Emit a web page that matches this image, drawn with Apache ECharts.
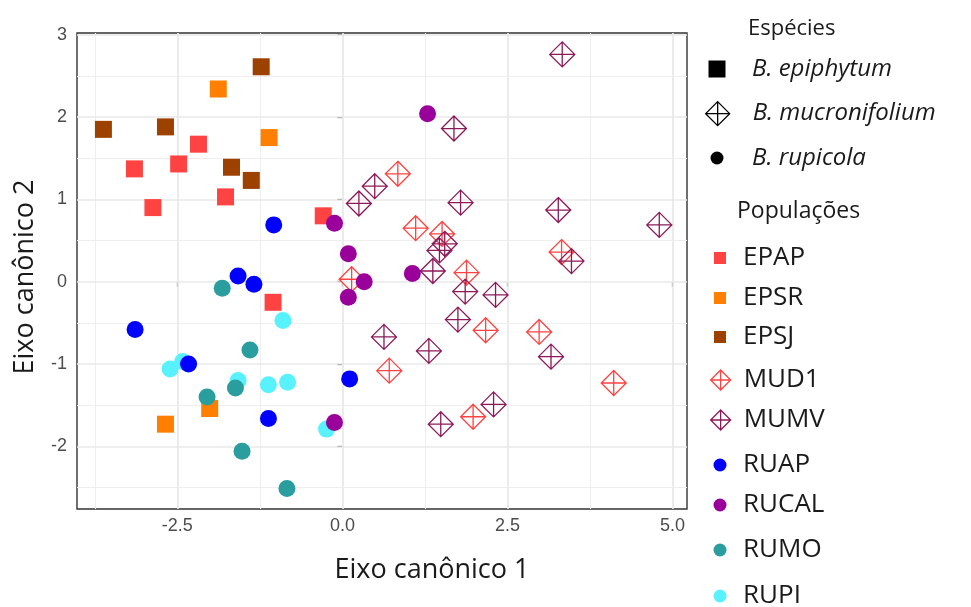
<!DOCTYPE html>
<html>
<head>
<meta charset="utf-8">
<script src="https://cdn.jsdelivr.net/npm/echarts@6/dist/echarts.min.js"></script>
<style>
  html, body { margin: 0; padding: 0; background: #ffffff; }
  #chart { width: 971px; height: 607px; }
</style>
</head>
<body>
<div id="chart"></div>
<script>
// Axis breaks
const xTicks = [-2.5, 0, 2.5, 5];
const xMinor = [-3.75, -1.25, 1.25, 3.75];
const yTicks = [-2, -1, 0, 1, 2, 3];
const yMinor = [-2.5, -1.5, -0.5, 0.5, 1.5, 2.5];

// Legend entries
const species = ['B. epiphytum', 'B. mucronifolium', 'B. rupicola'];
const populations = ['EPAP', 'EPSR', 'EPSJ', 'MUD1', 'MUMV', 'RUAP', 'RUCAL', 'RUMO', 'RUPI'];

// Canonical scores [axis 1, axis 2] per population
const EPAP = [[-3.15, 1.37], [-2.87, 0.90], [-2.48, 1.43], [-2.18, 1.67], [-1.77, 1.03], [-0.29, 0.80], [-1.05, -0.25]];
const EPSR = [[-1.88, 2.34], [-1.11, 1.75], [-2.68, -1.73], [-2.01, -1.54]];
const EPSJ = [[-3.62, 1.85], [-2.68, 1.88], [-1.23, 2.61], [-1.68, 1.39], [-1.38, 1.23]];
const MUD1 = [[0.84, 1.31], [1.11, 0.65], [1.51, 0.58], [3.32, 0.36], [1.88, 0.11], [0.14, 0.03],
              [2.17, -0.59], [2.98, -0.61], [0.71, -1.08], [4.11, -1.23], [1.98, -1.64]];
const MUMV = [[3.33, 2.76], [1.69, 1.86], [0.49, 1.16], [0.25, 0.95], [1.79, 0.96], [3.27, 0.87],
              [4.80, 0.69], [3.47, 0.25], [1.55, 0.46], [1.47, 0.38], [1.37, 0.13], [1.86, -0.12],
              [2.32, -0.16], [1.75, -0.46], [0.63, -0.67], [1.31, -0.84], [3.16, -0.91], [2.29, -1.49], [1.49, -1.73]];
const RUAP = [[-1.04, 0.69], [-1.58, 0.07], [-1.34, -0.03], [-3.14, -0.58], [-2.33, -1.00], [-1.12, -1.66], [0.11, -1.18]];
const RUCAL = [[1.29, 2.04], [-0.12, 0.71], [0.09, 0.34], [0.33, 0.00], [0.09, -0.19], [1.06, 0.10], [-0.12, -1.71]];
const RUMO = [[-1.82, -0.08], [-1.40, -0.83], [-1.62, -1.29], [-2.05, -1.40], [-1.52, -2.06], [-0.84, -2.51]];
const RUPI = [[-0.90, -0.47], [-2.61, -1.06], [-2.42, -0.97], [-1.58, -1.20], [-1.12, -1.25], [-0.83, -1.22], [-0.24, -1.79]];

const scores = { EPAP, EPSR, EPSJ, MUD1, MUMV, RUAP, RUCAL, RUMO, RUPI };

// Styling
const popColor = {
  EPAP: '#ff4242', EPSR: '#ff8000', EPSJ: '#9c4100',
  MUD1: '#ff4242', MUMV: '#8c1a5a',
  RUAP: '#0000ff', RUCAL: '#9a009a', RUMO: '#2a9d9e', RUPI: '#58f2ff'
};
const SQUARE = 'path://M0,0L10,0L10,10L0,10Z';
const DIAMOND_PLUS = 'path://M12,0L24,12L12,24L0,12Z M12,0L12,24 M0,12L24,12';
const speciesOf = p => p.startsWith('EP') ? 0 : (p.startsWith('MU') ? 1 : 2);
const shapeOf = s => [SQUARE, DIAMOND_PLUS, 'circle'][s];
const markSize = [17, 25, 17];

function markStyle(s, color) {
  if (s === 1) return { color: 'rgba(0,0,0,0)', borderColor: color, borderWidth: 1.3, opacity: 1 };
  return { color: color, borderWidth: 0, opacity: 1 };
}

const FONT = "'Open Sans', 'Noto Sans', sans-serif";
const TICK_FONT = "'Liberation Sans', Arial, sans-serif";

// grid lines (major and minor) as panel reference lines
const gridLines = [];
xTicks.forEach(v => gridLines.push({ xAxis: v, lineStyle: { color: '#e8e8e8', width: 1.7, type: 'solid' } }));
xMinor.forEach(v => gridLines.push({ xAxis: v, lineStyle: { color: '#eeeeee', width: 1.1, type: 'solid' } }));
yTicks.forEach(v => gridLines.push({ yAxis: v, lineStyle: { color: '#e8e8e8', width: 1.7, type: 'solid' } }));
yMinor.forEach(v => gridLines.push({ yAxis: v, lineStyle: { color: '#eeeeee', width: 1.1, type: 'solid' } }));

const series = [{
  name: '__grid', type: 'scatter', data: [], silent: true,
  markLine: { silent: true, z: 1, symbol: ['none', 'none'], label: { show: false },
              emphasis: { disabled: true }, animation: false, data: gridLines }
}];

// species key entries (black symbols)
species.forEach((name, s) => {
  series.push({
    name, type: 'scatter', data: [], symbol: shapeOf(s), symbolSize: markSize[s],
    itemStyle: markStyle(s, '#000000')
  });
});

// drawing order of the populations
const drawOrder = ['EPAP', 'EPSR', 'EPSJ', 'RUPI', 'MUD1', 'MUMV', 'RUAP', 'RUCAL', 'RUMO'];
drawOrder.forEach(p => {
  const s = speciesOf(p);
  series.push({
    name: p, type: 'scatter', data: scores[p],
    symbol: shapeOf(s), symbolSize: markSize[s],
    itemStyle: markStyle(s, popColor[p]),
    emphasis: { disabled: true }
  });
});

// one legend block per key row: icon centred at cx, text starting at tx
function keyRow(name, icon, style, cx, cy, h, tx, font) {
  const w = 2 * (tx - 5 - cx);
  const boxH = Math.max(h, font.fontSize);
  return {
    left: cx - h / 2, top: cy - boxH / 2, orient: 'vertical', padding: 0,
    itemWidth: w, itemHeight: h, selectedMode: false, symbolKeepAspect: true,
    textStyle: font,
    data: [{ name, icon, itemStyle: style }]
  };
}
const legends = [];
const spRowY = [69, 113, 158];
const spIcon = [17, 24, 13];
species.forEach((name, s) => {
  legends.push(keyRow(name, shapeOf(s), markStyle(s, '#000000'), 717, spRowY[s], spIcon[s], 752,
    { fontFamily: FONT, fontSize: 24, fontStyle: 'italic', color: '#1a1a1a' }));
});
const popRowY = [258, 298, 337, 380, 420, 465, 505, 550, 596];
const popIcon = [12, 20, 13];
populations.forEach((p, i) => {
  const s = speciesOf(p);
  legends.push(keyRow(p, shapeOf(s), markStyle(s, popColor[p]), 720, popRowY[i], popIcon[s], 743,
    { fontFamily: FONT, fontSize: 26, color: '#1a1a1a' }));
});

const option = {
  animation: false,
  backgroundColor: '#ffffff',
  title: [
    { text: 'Espécies', left: 748, top: 18, padding: 0,
      textStyle: { fontFamily: FONT, fontSize: 22, fontWeight: 'normal', color: '#1a1a1a' } },
    { text: 'Populações', left: 737, top: 200, padding: 0,
      textStyle: { fontFamily: FONT, fontSize: 23, fontWeight: 'normal', color: '#1a1a1a' } }
  ],
  legend: legends,
  grid: {
    left: 77, right: 284, top: 33, bottom: 98, containLabel: false,
    show: true, backgroundColor: '#ffffff', borderColor: '#333333', borderWidth: 1.4
  },
  xAxis: {
    type: 'value', min: -4.02, max: 5.22,
    name: 'Eixo canônico 1', nameLocation: 'middle', nameGap: 48,
    nameTextStyle: { fontFamily: FONT, fontSize: 27, color: '#1a1a1a', padding: [0, 0, 0, 100] },
    axisLine: { show: false },
    axisTick: { show: true, customValues: xTicks, length: 5, lineStyle: { color: '#333333', width: 1.2 } },
    axisLabel: { customValues: xTicks, margin: 8, fontFamily: TICK_FONT, fontSize: 18, color: '#4d4d4d',
                 formatter: v => v.toFixed(1) },
    splitLine: { show: false }
  },
  yAxis: {
    type: 'value', min: -2.76, max: 3.02,
    name: 'Eixo canônico 2', nameLocation: 'middle', nameGap: 38,
    nameTextStyle: { fontFamily: FONT, fontSize: 27, color: '#1a1a1a', padding: [0, 12, 0, 0] },
    axisLine: { show: false },
    axisTick: { show: true, customValues: yTicks, length: 5, lineStyle: { color: '#333333', width: 1.2 } },
    axisLabel: { customValues: yTicks, margin: 10, fontFamily: TICK_FONT, fontSize: 18, color: '#4d4d4d',
                 formatter: v => String(Math.round(v)) },
    splitLine: { show: false }
  },
  series
};

const chart = echarts.init(document.getElementById('chart'), null, { renderer: 'canvas' });
chart.setOption(option);
</script>
</body>
</html>
